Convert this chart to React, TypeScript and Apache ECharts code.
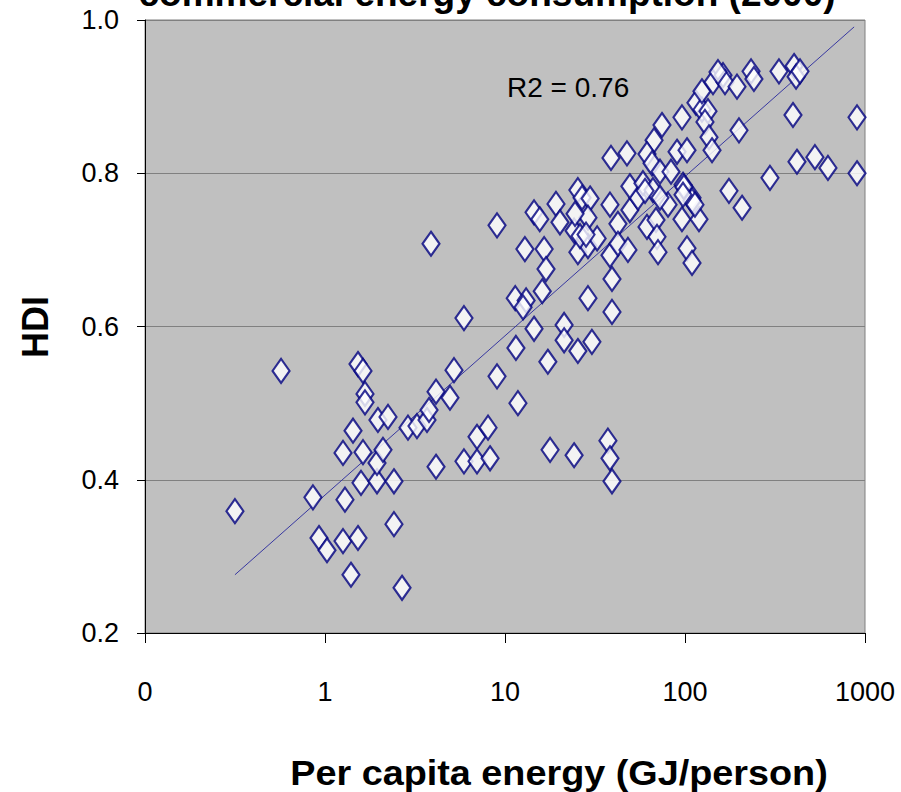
import React, { useEffect, useRef } from "react";
import * as echarts from "echarts";

// Per capita energy (GJ/person)
const energy = [
  0.316, 0.57, 0.857, 0.926, 1.026, 1.259, 1.525, 1.394, 1.291, 1.259,
  1.431, 1.626, 1.585, 1.945, 2.416, 1.945, 2.1, 1.968, 2.239, 1.525,
  1.626, 1.668, 1.668, 2.416, 2.679, 2.891, 3.243, 3.687, 3.784, 4.138,
  4.946, 5.208, 4.138, 5.916, 3.88, 9.03, 6.99, 8.05, 5.916, 6.99,
  8.26, 11.5, 11.8, 11.4, 13.1, 12.6, 14.5, 17.3, 17.8, 24.2,
  37.3, 38.3, 39.3, 21.3, 21.3, 25.4, 30.4, 28.9, 39.3, 39.3,
  38.3, 9.03, 12.9, 16.5, 16.9, 16.1, 25.4, 28.9, 32.5, 24.2,
  26.1, 25.4, 26.8, 29.7, 28.9, 24.5, 19.2, 20.2, 14.5, 15.6,
  38.3, 42.4, 42.4, 48.2, 49.4, 54.8, 49.4, 58.4, 61.5, 69.0,
  69.9, 70.8, 80.5, 96.2, 102.6, 109.4, 119.6, 109.4, 97.5, 66.4,
  72.6, 175.5, 207.5, 296.5, 418.8, 527, 622.6, 903, 903, 398,
  38.8, 47.6, 74.5, 67.3, 61.5, 65.6, 72.6, 83.6, 90.3, 102.6,
  96.2, 115, 124.2, 134.2, 129.1, 135.9, 141.3, 124.2, 143.1, 162.6,
  166.8, 152.5, 194.5, 232.8, 241.5, 199.5, 332.7, 403.6, 414, 435.5,
  98.6, 109.4, 97.5, 28.2, 60, 113.6,
];

// Human Development Index
const hdi = [
  0.359, 0.542, 0.377, 0.324, 0.308, 0.32, 0.324, 0.276, 0.374, 0.435,
  0.464, 0.436, 0.396, 0.398, 0.398, 0.422, 0.439, 0.478, 0.482, 0.551,
  0.542, 0.512, 0.501, 0.342, 0.259, 0.468, 0.47, 0.478, 0.491, 0.515,
  0.507, 0.543, 0.417, 0.611, 0.708, 0.535, 0.456, 0.468, 0.424, 0.424,
  0.428, 0.572, 0.5, 0.637, 0.634, 0.625, 0.597, 0.554, 0.439, 0.432,
  0.451, 0.428, 0.398, 0.602, 0.582, 0.568, 0.58, 0.637, 0.619, 0.662,
  0.693, 0.732, 0.701, 0.701, 0.675, 0.646, 0.697, 0.705, 0.715, 0.725,
  0.718, 0.778, 0.768, 0.767, 0.742, 0.747, 0.76, 0.736, 0.749, 0.74,
  0.759, 0.734, 0.708, 0.7, 0.752, 0.768, 0.783, 0.787, 0.73, 0.739,
  0.717, 0.697, 0.759, 0.74, 0.702, 0.683, 0.74, 0.768, 0.785, 0.778,
  0.768, 0.777, 0.755, 0.794, 0.815, 0.821, 0.807, 0.8, 0.873, 0.876,
  0.82, 0.826, 0.863, 0.843, 0.825, 0.813, 0.802, 0.802, 0.828, 0.83,
  0.873, 0.892, 0.883, 0.881, 0.867, 0.847, 0.83, 0.907, 0.919, 0.928,
  0.919, 0.932, 0.913, 0.933, 0.923, 0.856, 0.933, 0.94, 0.926, 0.933,
  0.782, 0.764, 0.772, 0.72, 0.777, 0.759,
];

// Logarithmic trend line end points
const trendEnergy = [0.316, 870];
const trendHdi = [0.276, 0.991];

const yTicks = [0.2, 0.4, 0.6, 0.8, 1.0];
const titleText = "commercial energy consumption (2000)";
const xTitle = "Per capita energy (GJ/person)";
const yTitle = "HDI";
const r2Text = "R2 = 0.76";

const FONT = "'Liberation Sans', Arial, Helvetica, sans-serif";

export default function App() {
  const ref = useRef<HTMLDivElement>(null);
  useEffect(() => {
    if (!ref.current) return;
    const chart = echarts.init(ref.current, undefined, { renderer: "svg" });
    const points = energy.map((e, i) => [e, hdi[i]]);
    const trend = trendEnergy.map((e, i) => [e, trendHdi[i]]);
    chart.setOption({
      animation: false,
      backgroundColor: "#ffffff",
      textStyle: { fontFamily: FONT },
      grid: {
        left: 145,
        top: 20,
        right: 36,
        bottom: 159,
        show: true,
        backgroundColor: "#C0C0C0",
        borderColor: "#808080",
        borderWidth: 1,
      },
      xAxis: {
        type: "log",
        logBase: 10,
        min: 0.1,
        max: 1000,
        axisLine: { show: true, onZero: false, lineStyle: { color: "#000000", width: 1 } },
        axisTick: { show: true, inside: false, length: 10, lineStyle: { color: "#000000" } },
        splitLine: { show: false },
        minorTick: { show: false },
        axisLabel: {
          margin: 45,
          fontSize: 27,
          color: "#000000",
          fontFamily: FONT,
          formatter: (v: number) => (v < 1 ? "0" : String(Math.round(v))),
        },
      },
      yAxis: {
        type: "value",
        min: yTicks[0],
        max: yTicks[yTicks.length - 1],
        interval: 0.2,
        axisLine: { show: true, lineStyle: { color: "#000000", width: 1 } },
        axisTick: { show: true, inside: false, length: 8, lineStyle: { color: "#000000" } },
        splitLine: { show: true, lineStyle: { color: "#808080", width: 1 } },
        axisLabel: {
          margin: 26,
          fontSize: 27,
          color: "#000000",
          fontFamily: FONT,
          formatter: (v: number) => v.toFixed(1),
        },
      },
      series: [
        {
          type: "line",
          data: trend,
          symbol: "none",
          lineStyle: { color: "#3838a0", width: 1 },
          z: 2,
        },
        {
          type: "scatter",
          data: points,
          symbol: "diamond",
          symbolSize: [17, 24],
          itemStyle: { color: "#ffffff", borderColor: "#000080", borderWidth: 2.2 },
          z: 3,
        },
      ],
      graphic: [
        {
          type: "text",
          x: 487,
          y: 12,
          style: {
            text: titleText,
            font: `bold 37px ${FONT}`,
            fill: "#000000",
            textAlign: "center",
            textVerticalAlign: "bottom",
          },
        },
        {
          type: "text",
          x: 507,
          y: 87,
          z: 10,
          style: {
            text: r2Text,
            font: `28px ${FONT}`,
            fill: "#000000",
            textAlign: "left",
            textVerticalAlign: "middle",
          },
        },
        {
          type: "text",
          x: 559,
          y: 773,
          scaleX: 1.08,
          style: {
            text: xTitle,
            font: `bold 35px ${FONT}`,
            fill: "#000000",
            textAlign: "center",
            textVerticalAlign: "middle",
          },
        },
        {
          type: "text",
          x: 35,
          y: 327,
          rotation: Math.PI / 2,
          style: {
            text: yTitle,
            font: `bold 36px ${FONT}`,
            fill: "#000000",
            textAlign: "center",
            textVerticalAlign: "middle",
          },
        },
      ],
    });
    return () => chart.dispose();
  }, []);
  return (
    <div
      ref={ref}
      style={{ position: "absolute", left: 0, top: 0, width: 901, height: 792 }}
    />
  );
}
